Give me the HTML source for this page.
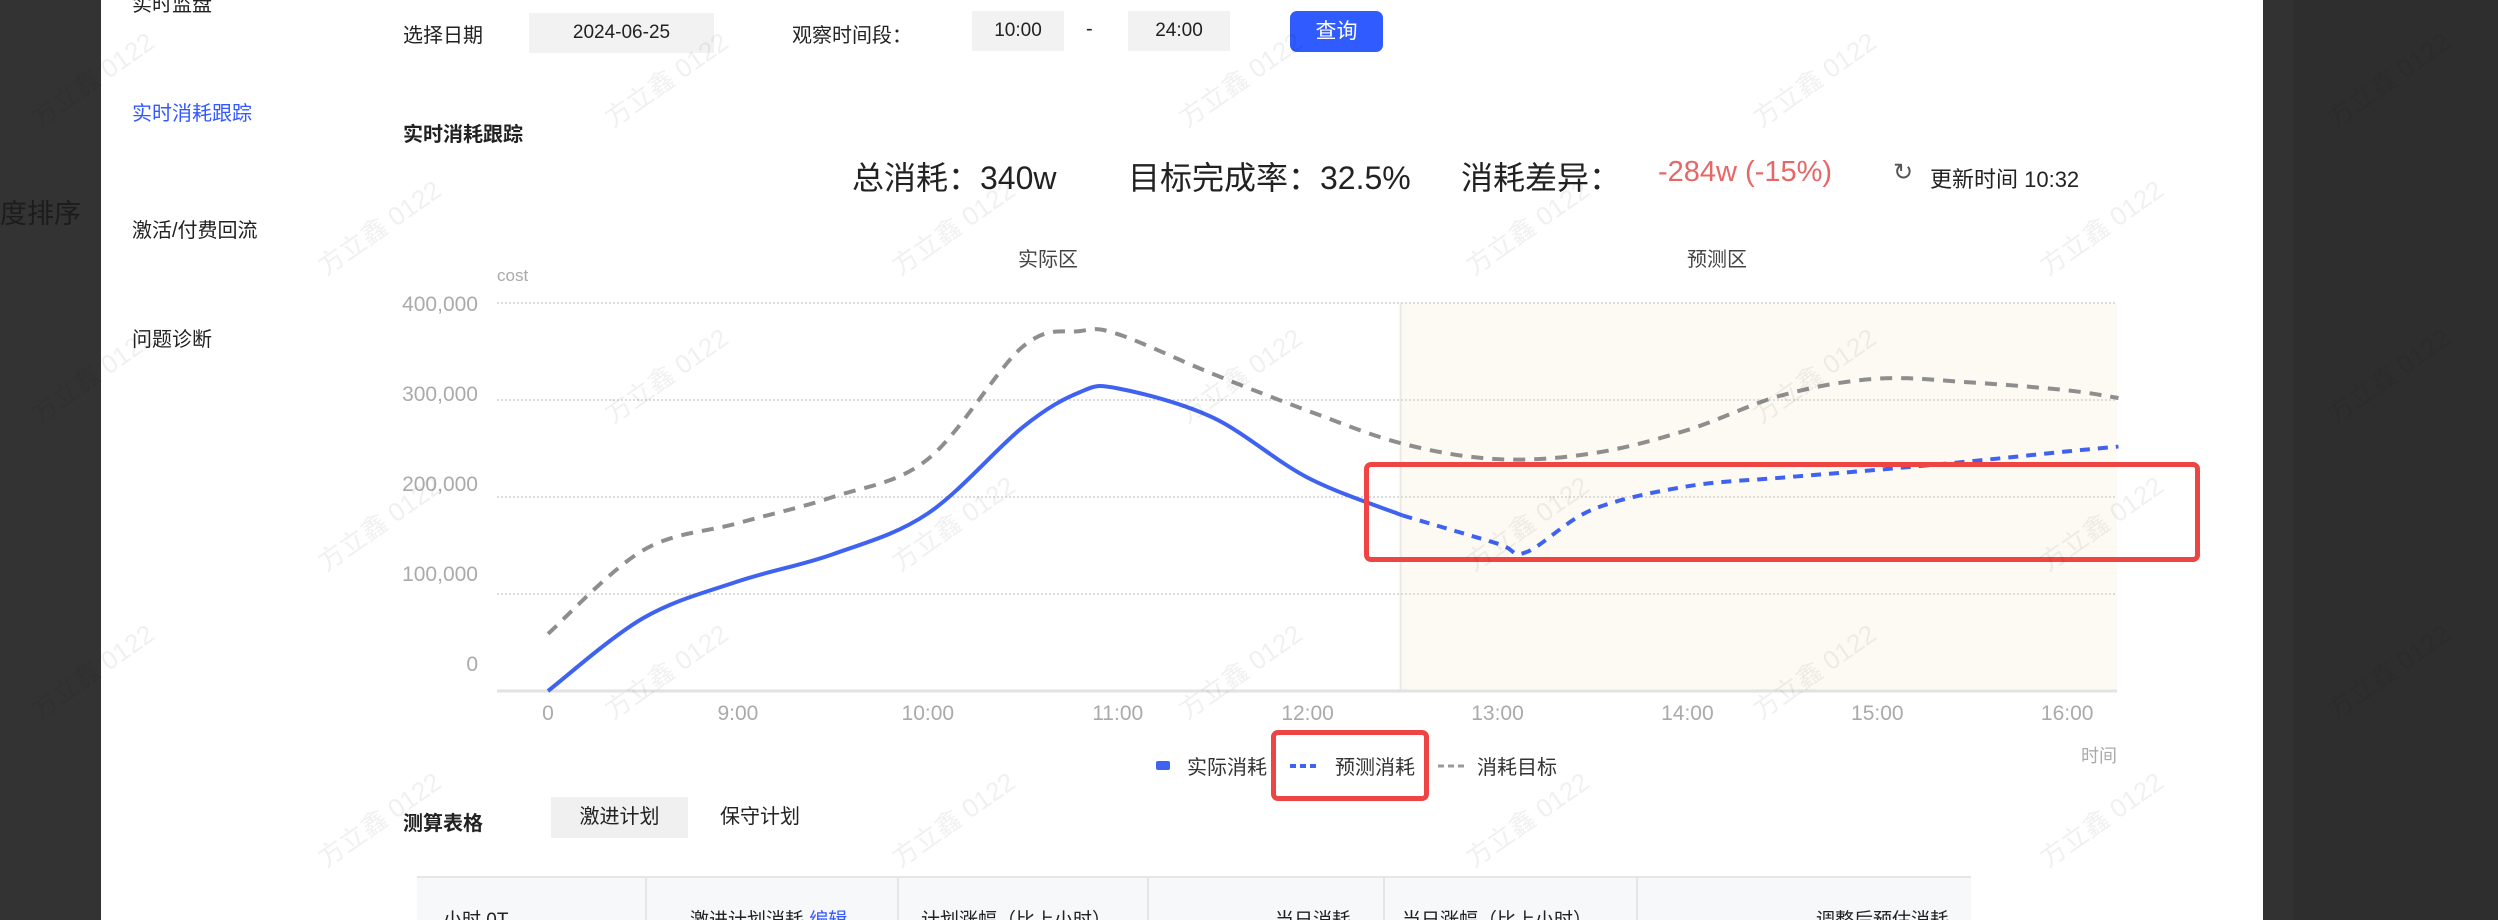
<!DOCTYPE html>
<html><head><meta charset="utf-8">
<style>
*{margin:0;padding:0;box-sizing:border-box}
html{width:2498px;height:920px;overflow:hidden}
body{width:2498px;height:920px;overflow:hidden;background:#fff;position:relative;font-family:"Liberation Sans","Noto Sans CJK SC",sans-serif;color:#222}
.a{position:absolute;white-space:nowrap}
.wm{position:absolute;color:rgba(0,0,0,0.06);font-size:26px;transform:rotate(-35deg);white-space:nowrap;pointer-events:none}
#wms{position:absolute;left:0;top:0;width:2498px;height:920px;overflow:hidden}
</style></head><body>
<div class="a" style="left:0;top:0;width:101px;height:920px;background:#333"></div>
<div class="a" style="left:0;top:192px;font-size:27px;color:#1c1c1c">度排序</div>
<div class="a" style="left:2263px;top:0;width:235px;height:920px;background:#323232"></div>
<div class="a" style="left:2293px;top:0;width:205px;height:920px;background:#2e2e2e"></div>

<div class="a" style="left:132px;top:-12px;font-size:20px;color:#222">实时监盘</div>
<div class="a" style="left:132px;top:97px;font-size:20px;color:#3358ff">实时消耗跟踪</div>
<div class="a" style="left:132px;top:214px;font-size:20px;color:#222">激活/付费回流</div>
<div class="a" style="left:132px;top:323px;font-size:20px;color:#222">问题诊断</div>

<div class="a" style="left:403px;top:19px;font-size:20px">选择日期</div>
<div class="a" style="left:529px;top:13px;width:185px;height:40px;background:#f2f2f2;font-size:19px;line-height:40px;text-align:center">2024-06-25</div>
<div class="a" style="left:792px;top:19px;font-size:20px">观察时间段：</div>
<div class="a" style="left:972px;top:11px;width:92px;height:40px;background:#f2f2f2;font-size:19px;line-height:40px;text-align:center">10:00</div>
<div class="a" style="left:1086px;top:18px;font-size:20px">-</div>
<div class="a" style="left:1128px;top:11px;width:102px;height:40px;background:#f2f2f2;font-size:19px;line-height:40px;text-align:center">24:00</div>
<div class="a" style="left:1290px;top:11px;width:93px;height:41px;background:#2f5bff;border-radius:7px;color:#fff;font-size:21px;line-height:41px;text-align:center">查询</div>

<div class="a" style="left:403px;top:118px;font-size:20px;font-weight:bold">实时消耗跟踪</div>

<div class="a" style="left:852px;top:153px;font-size:32px">总消耗：340w</div>
<div class="a" style="left:1128px;top:153px;font-size:32px">目标完成率：32.5%</div>
<div class="a" style="left:1461px;top:153px;font-size:32px">消耗差异：</div>
<div class="a" style="left:1658px;top:156px;font-size:29px;color:#e86666">-284w (-15%)</div>
<div class="a" style="left:1893px;top:158px;font-size:24px;color:#555">↻</div>
<div class="a" style="left:1930px;top:162px;font-size:22px">更新时间 10:32</div>

<svg class="a" style="left:0;top:0" width="2498" height="920" id="chart"></svg>

<div class="a" style="left:403px;top:807px;font-size:20px;font-weight:bold">测算表格</div>
<div class="a" style="left:551px;top:797px;width:137px;height:41px;background:#f0f0f0;font-size:20px;line-height:41px;text-align:center">激进计划</div>
<div class="a" style="left:720px;top:797px;height:41px;font-size:20px;line-height:41px">保守计划</div>

<div class="a" style="left:417px;top:876px;width:1554px;height:44px;background:#f7f8fa;border-top:2px solid #e6e6e6"></div>
<div class="a" style="left:645px;top:878px;width:2px;height:42px;background:#e6e6e6"></div>
<div class="a" style="left:897px;top:878px;width:2px;height:42px;background:#e6e6e6"></div>
<div class="a" style="left:1147px;top:878px;width:2px;height:42px;background:#e6e6e6"></div>
<div class="a" style="left:1383px;top:878px;width:2px;height:42px;background:#e6e6e6"></div>
<div class="a" style="left:1636px;top:878px;width:2px;height:42px;background:#e6e6e6"></div>
<div class="a" style="left:443px;top:905px;font-size:19px">小时 0T</div>
<div class="a" style="left:690px;top:905px;font-size:19px">激进计划消耗 <span style="color:#3358ff">编辑</span></div>
<div class="a" style="left:921px;top:905px;font-size:19px">计划涨幅（比上小时）</div>
<div class="a" style="left:1275px;top:905px;font-size:19px">当日消耗</div>
<div class="a" style="left:1402px;top:905px;font-size:19px">当日涨幅（比上小时）</div>
<div class="a" style="left:1816px;top:905px;font-size:19px">调整后预估消耗</div>

<div class="a" style="left:1364px;top:462px;width:836px;height:100px;border:5px solid #ef4444;border-radius:7px"></div>
<div class="a" style="left:1271px;top:730px;width:158px;height:71px;border:5px solid #ef4444;border-radius:7px"></div>

<div id="wms"></div>

<script>
const tickLabels=['0','9:00','10:00','11:00','12:00','13:00','14:00','15:00','16:00'];
const tickHours=[8,9,10,11,12,13,14,15,16];
const yTicks=[0,100000,200000,300000,400000];
const yTickLabels=['0','100,000','200,000','300,000','400,000'];
const actualHours=[8,8.5,9,9.5,10,10.5,10.8,11,11.5,12,12.5];
const actualValues=[0,75000,113000,141000,183000,272000,308000,312000,282000,220000,181000];
const forecastHours=[12.5,13,13.15,13.5,14,14.5,15,15.5,16,16.27];
const forecastValues=[181000,152000,143000,187000,211000,220000,228000,237000,247000,252000];
const targetHours=[8,8.5,9,9.5,10,10.5,10.8,11,11.5,12,12.5,13,13.5,14,14.5,15,15.5,16,16.27];
const targetValues=[59000,145000,173000,200000,239000,355000,371000,368000,327000,289000,255000,239000,245000,269000,305000,322000,318000,310000,302000];
const forecastStartHour=12.49;

const NS='http://www.w3.org/2000/svg';
const svg=document.getElementById('chart');
const X0=497,X1=2117;
const xs=h=>548+(h-8)*189.9;
const ys=v=>691-v*0.00097;
const yl=v=>663-v*0.0009;
function mk(t,attrs){const e=document.createElementNS(NS,t);for(const k in attrs)e.setAttribute(k,attrs[k]);svg.appendChild(e);return e;}
const zone=mk('rect',{x:xs(forecastStartHour),y:ys(400000),width:X1-xs(forecastStartHour),height:ys(0)-ys(400000),fill:'#fdf9f3'});


const zl=mk('line',{x1:xs(forecastStartHour),x2:xs(forecastStartHour),y1:ys(400000),y2:ys(0),stroke:'#ece8e2','stroke-width':2});


yTicks.forEach((v,i)=>{
  if(v>0){const g=mk('line',{x1:X0,x2:X1,y1:ys(v),y2:ys(v),stroke:'#dcdcdc','stroke-width':2,'stroke-dasharray':'2 2'});
  
  }
  const t=mk('text',{x:478,y:yl(v)+8,'text-anchor':'end','font-size':21,fill:'#aaa'});t.textContent=yTickLabels[i];
  
  
});
const ax=mk('line',{x1:X0,x2:X1,y1:ys(0),y2:ys(0),stroke:'#e2e2e2','stroke-width':3});


tickHours.forEach((h,i)=>{
  const t=mk('text',{x:xs(h),y:720,'text-anchor':'middle','font-size':21,fill:'#aaa'});t.textContent=tickLabels[i];
  
  
});
function lab(x,y,s,txt,fill,name,anchor){const t=mk('text',{x:x,y:y,'font-size':s,fill:fill,'text-anchor':anchor||'start'});t.textContent=txt;
  
  return t;}
lab(497,281,17,'cost','#aaa','y-axis-title');
lab(2081,762,18,'时间','#aaa','x-axis-title');
lab(1048,266,20,'实际区','#444','actual-zone-label','middle');
lab(1717,266,20,'预测区','#444','forecast-zone-label','middle');
function path(hs,vs){
  const p=hs.map((h,i)=>[xs(h),ys(vs[i])]);
  let d='M'+p[0][0]+','+p[0][1];
  for(let i=0;i<p.length-1;i++){
    const p0=p[i-1]||p[i],p1=p[i],p2=p[i+1],p3=p[i+2]||p2;
    const c1=[p1[0]+(p2[0]-p0[0])/6,p1[1]+(p2[1]-p0[1])/6],c2=[p2[0]-(p3[0]-p1[0])/6,p2[1]-(p3[1]-p1[1])/6];
    d+=` C${c1[0]},${c1[1]} ${c2[0]},${c2[1]} ${p2[0]},${p2[1]}`;
  }
  return d;
}
const tl=mk('path',{d:path(targetHours,targetValues),fill:'none',stroke:'#8e8e8e','stroke-width':4,'stroke-dasharray':'12 9'});


const al=mk('path',{d:path(actualHours,actualValues),fill:'none',stroke:'#3f63f0','stroke-width':4});


const fl=mk('path',{d:path(forecastHours,forecastValues),fill:'none',stroke:'#3f63f0','stroke-width':4,'stroke-dasharray':'10 8'});


const l1=mk('rect',{x:1156,y:761,width:14,height:9,fill:'#3f63f0',rx:2});


lab(1187,774,20,'实际消耗','#333','legend-actual');
const l2=mk('line',{x1:1290,x2:1320,y1:766,y2:766,stroke:'#3f63f0','stroke-width':4,'stroke-dasharray':'6 4'});


lab(1335,774,20,'预测消耗','#333','legend-forecast');
const l3=mk('line',{x1:1438,x2:1466,y1:766,y2:766,stroke:'#999','stroke-width':3,'stroke-dasharray':'6 4'});


lab(1477,774,20,'消耗目标','#333','legend-target');
const wms=document.getElementById('wms');
for(let r=0;r<6;r++){for(let c=0;c<5;c++){
  const d=document.createElement('div');d.className='wm';
  
  
  const off=(r%2)?287:0;
  d.style.left=(20+off+c*574)+'px';d.style.top=(60+r*148)+'px';d.textContent='方立鑫 0122';wms.appendChild(d);
}}
</script>
</body></html>
